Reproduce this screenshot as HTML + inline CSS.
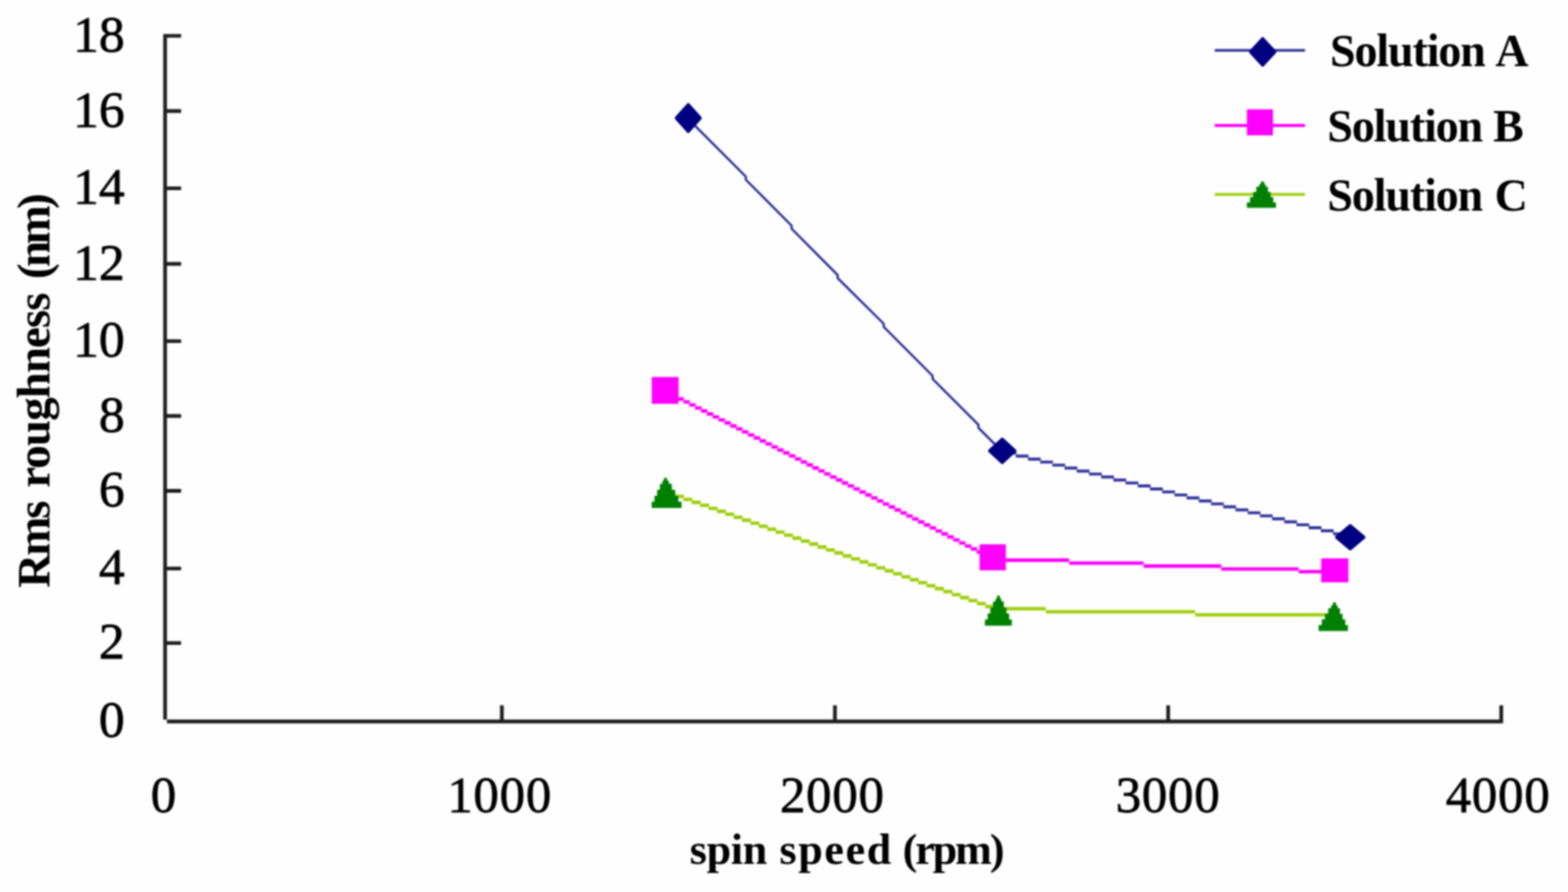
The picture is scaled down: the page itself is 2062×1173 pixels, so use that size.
<!DOCTYPE html>
<html lang="en">
<head>
<meta charset="utf-8">
<title>Rms roughness vs spin speed</title>
<style>
  html, body { margin: 0; padding: 0; background: #fefefe; }
  body { width: 2062px; height: 1173px; overflow: hidden; }
  svg { display: block; }
  text { font-family: "Liberation Serif", "Times New Roman", Times, serif; fill: #000; }
  .yt { font-size: 68px; text-anchor: end; stroke: #000; stroke-width: 0.9px; }
  .xt { font-size: 67px; text-anchor: middle; stroke: #000; stroke-width: 0.9px; letter-spacing: 0.9px; }
  .b { font-weight: bold; }
  .leg { font-size: 60.5px; }
  .xtitle { font-size: 58px; }
  .ytitle { font-size: 62px; }
</style>
</head>
<body>
<svg width="2062" height="1173" viewBox="0 0 2062 1173">
  <defs>
    <filter id="soft" filterUnits="userSpaceOnUse" x="0" y="0" width="2062" height="1173" color-interpolation-filters="sRGB">
      <feGaussianBlur stdDeviation="1.2"/>
    </filter>
  </defs>
  <rect x="0" y="0" width="2062" height="1173" fill="#fefefe"/>
  <g filter="url(#soft)">
    <rect x="0" y="0" width="2062" height="1173" fill="#fefefe"/>

    <!-- axes and ticks -->
    <path fill="#1e1e1e" d="M214.65 44.65H219.55V946.3H214.65ZM219.55 946.3H1976.65V951.2H219.55ZM219.05 44.65H238.2V49.55H219.05ZM219.05 143.55H238.2V148.45H219.05ZM219.05 245.15H238.2V250.05H219.05ZM219.05 344.55H238.2V349.45H219.05ZM219.05 446.15H238.2V451.05H219.05ZM219.05 544.55H238.2V549.45H219.05ZM219.05 643.05H238.2V647.95H219.05ZM219.05 745.15H238.2V750.05H219.05ZM219.05 843.15H238.2V848.05H219.05ZM657.55 927.6H662.45V948.75H657.55ZM1095.55 927.6H1100.45V948.75H1095.55ZM1533.75 927.6H1538.65V948.75H1533.75ZM1971.75 927.6H1976.65V948.75H1971.75Z"/>

    <!-- y tick labels -->
    <g class="yt">
      <text x="164" y="67.7">18</text>
      <text x="164" y="166.6">16</text>
      <text x="164" y="268.2">14</text>
      <text x="164" y="367.6">12</text>
      <text x="164" y="469.2">10</text>
      <text x="164" y="567.6">8</text>
      <text x="164" y="666.1">6</text>
      <text x="164" y="768.2">4</text>
      <text x="164" y="866.2">2</text>
      <text x="164" y="969.2">0</text>
    </g>

    <!-- x tick labels -->
    <g class="xt">
      <text x="215.5" y="1068">0</text>
      <text x="657" y="1068">1000</text>
      <text x="1094.5" y="1068">2000</text>
      <text x="1536" y="1068">3000</text>
      <text x="1970" y="1068">4000</text>
    </g>

    <!-- x axis title -->
    <g class="b xtitle">
      <text x="907" y="1135.5" textLength="102" lengthAdjust="spacing">spin</text>
      <text x="1025" y="1135.5" textLength="147" lengthAdjust="spacing">speed</text>
      <text x="1187" y="1135.5" textLength="134" lengthAdjust="spacing">(rpm)</text>
    </g>

    <!-- y axis title -->
    <g class="b ytitle" transform="translate(64.5 0) rotate(-90)">
      <text x="-773" y="0" textLength="115" lengthAdjust="spacing">Rms</text>
      <text x="-641.5" y="0" textLength="257" lengthAdjust="spacing">roughness</text>
      <text x="-367" y="0" textLength="113" lengthAdjust="spacing">(nm)</text>
    </g>

    <!-- series C line -->
    <path fill="#9fce0c" d="M876.54 646.59H888.37V651.19H876.54ZM887.57 650.5H899.4V655.1H887.57ZM898.6 654.41H910.43V659.01H898.6ZM909.63 658.33H921.46V662.93H909.63ZM920.66 662.24H932.49V666.84H920.66ZM931.69 666.16H943.52V670.76H931.69ZM942.72 670.07H954.55V674.67H942.72ZM953.75 673.98H965.58V678.58H953.75ZM964.78 677.9H976.61V682.5H964.78ZM975.81 681.81H987.64V686.41H975.81ZM986.84 685.73H998.67V690.33H986.84ZM997.87 689.64H1009.7V694.24H997.87ZM1008.9 693.55H1020.73V698.15H1008.9ZM1019.93 697.47H1031.76V702.07H1019.93ZM1030.96 701.38H1042.79V705.98H1030.96ZM1041.99 705.3H1053.82V709.9H1041.99ZM1053.02 709.21H1064.85V713.81H1053.02ZM1064.05 713.12H1075.88V717.72H1064.05ZM1075.08 717.04H1086.91V721.64H1075.08ZM1086.11 720.95H1097.94V725.55H1086.11ZM1097.14 724.87H1108.97V729.47H1097.14ZM1108.17 728.78H1120V733.38H1108.17ZM1119.2 732.69H1131.03V737.29H1119.2ZM1130.23 736.61H1142.06V741.21H1130.23ZM1141.26 740.52H1153.09V745.12H1141.26ZM1152.29 744.44H1164.12V749.04H1152.29ZM1163.32 748.35H1175.15V752.95H1163.32ZM1174.35 752.26H1186.18V756.86H1174.35ZM1185.38 756.18H1197.21V760.78H1185.38ZM1196.41 760.09H1208.24V764.69H1196.41ZM1207.44 764.01H1219.27V768.61H1207.44ZM1218.47 767.92H1230.3V772.52H1218.47ZM1229.5 771.83H1241.33V776.43H1229.5ZM1240.53 775.75H1252.36V780.35H1240.53ZM1251.56 779.66H1263.39V784.26H1251.56ZM1262.59 783.58H1274.42V788.18H1262.59ZM1273.62 787.49H1285.45V792.09H1273.62ZM1284.65 791.4H1296.48V796H1284.65ZM1295.68 795.32H1307.51V799.92H1295.68ZM1313 798.2H1375.3V802.8H1313ZM1375.3 802.2H1571.6V806.8H1375.3ZM1571.6 806.2H1755V810.8H1571.6Z"/>
    <!-- series B line -->
    <path fill="#ff00ff" d="M875.46 514.41H883.97V519.01H875.46ZM883.17 518.35H891.69V522.95H883.17ZM890.89 522.3H899.4V526.9H890.89ZM898.6 526.25H907.11V530.85H898.6ZM906.31 530.19H914.83V534.79H906.31ZM914.03 534.14H922.54V538.74H914.03ZM921.74 538.08H930.26V542.68H921.74ZM929.46 542.03H937.97V546.63H929.46ZM937.17 545.98H945.68V550.58H937.17ZM944.88 549.92H953.4V554.52H944.88ZM952.6 553.87H961.11V558.47H952.6ZM960.31 557.81H968.83V562.41H960.31ZM968.03 561.76H976.54V566.36H968.03ZM975.74 565.71H984.25V570.31H975.74ZM983.45 569.65H991.97V574.25H983.45ZM991.17 573.6H999.68V578.2H991.17ZM998.88 577.54H1007.4V582.14H998.88ZM1006.6 581.49H1015.11V586.09H1006.6ZM1014.31 585.44H1022.82V590.04H1014.31ZM1022.02 589.38H1030.54V593.98H1022.02ZM1029.74 593.33H1038.25V597.93H1029.74ZM1037.45 597.27H1045.97V601.87H1037.45ZM1045.17 601.22H1053.68V605.82H1045.17ZM1052.88 605.17H1061.39V609.77H1052.88ZM1060.59 609.11H1069.11V613.71H1060.59ZM1068.31 613.06H1076.82V617.66H1068.31ZM1076.02 617H1084.54V621.6H1076.02ZM1083.74 620.95H1092.25V625.55H1083.74ZM1091.45 624.9H1099.96V629.5H1091.45ZM1099.16 628.84H1107.68V633.44H1099.16ZM1106.88 632.79H1115.39V637.39H1106.88ZM1114.59 636.73H1123.11V641.33H1114.59ZM1122.31 640.68H1130.82V645.28H1122.31ZM1130.02 644.63H1138.53V649.23H1130.02ZM1137.73 648.57H1146.25V653.17H1137.73ZM1145.45 652.52H1153.96V657.12H1145.45ZM1153.16 656.46H1161.68V661.06H1153.16ZM1160.88 660.41H1169.39V665.01H1160.88ZM1168.59 664.36H1177.1V668.96H1168.59ZM1176.3 668.3H1184.82V672.9H1176.3ZM1184.02 672.25H1192.53V676.85H1184.02ZM1191.73 676.19H1200.25V680.79H1191.73ZM1199.45 680.14H1207.96V684.74H1199.45ZM1207.16 684.09H1215.67V688.69H1207.16ZM1214.87 688.03H1223.39V692.63H1214.87ZM1222.59 691.98H1231.1V696.58H1222.59ZM1230.3 695.92H1238.82V700.52H1230.3ZM1238.02 699.87H1246.53V704.47H1238.02ZM1245.73 703.82H1254.24V708.42H1245.73ZM1253.44 707.76H1261.96V712.36H1253.44ZM1261.16 711.71H1269.67V716.31H1261.16ZM1268.87 715.65H1277.39V720.25H1268.87ZM1276.59 719.6H1285.1V724.2H1276.59ZM1284.3 723.55H1292.81V728.15H1284.3ZM1292.01 727.49H1300.53V732.09H1292.01ZM1306 734.3H1406V738.9H1306ZM1406 738.2H1503.8V742.8H1406ZM1503.8 742.1H1606V746.7H1503.8ZM1606 745.9H1707.8V750.5H1606ZM1707.8 749.4H1755V754H1707.8Z"/>
    <!-- series A line -->
    <path fill="#333399" d="M1319.7 593.92H1336.55V597.82H1319.7ZM1335.75 597.85H1352.6V601.75H1335.75ZM1351.8 601.78H1368.65V605.68H1351.8ZM1367.85 605.7H1384.7V609.6H1367.85ZM1383.9 609.63H1400.75V613.53H1383.9ZM1399.95 613.56H1416.8V617.46H1399.95ZM1416 617.48H1432.85V621.38H1416ZM1432.05 621.41H1448.9V625.31H1432.05ZM1448.1 625.34H1464.95V629.24H1448.1ZM1464.15 629.27H1481V633.17H1464.15ZM1480.2 633.19H1497.05V637.09H1480.2ZM1496.25 637.12H1513.1V641.02H1496.25ZM1512.3 641.05H1529.15V644.95H1512.3ZM1528.35 644.97H1545.2V648.87H1528.35ZM1544.4 648.9H1561.25V652.8H1544.4ZM1560.45 652.83H1577.3V656.73H1560.45ZM1576.5 656.75H1593.35V660.65H1576.5ZM1592.55 660.68H1609.4V664.58H1592.55ZM1608.6 664.61H1625.45V668.51H1608.6ZM1624.65 668.54H1641.5V672.44H1624.65ZM1640.7 672.46H1657.55V676.36H1640.7ZM1656.75 676.39H1673.6V680.29H1656.75ZM1672.8 680.32H1689.65V684.22H1672.8ZM1688.85 684.24H1705.7V688.14H1688.85ZM1704.9 688.17H1721.75V692.07H1704.9ZM1720.95 692.1H1737.8V696H1720.95ZM1737 696.02H1753.85V699.92H1737ZM1753.05 699.95H1769.9V703.85H1753.05ZM1769.1 703.88H1785.95V707.78H1769.1Z"/>
    <path fill="none" stroke="#2e2e96" stroke-width="3.0" stroke-linejoin="round" d="M905 156.4 L980.8 232.2 L980.8 236.2 L1041 296.8 L1041 300.8 L1101.5 361.6 L1101.5 365.6 L1162.1 425.8 L1162.1 429.8 L1226.4 494.3 L1226.4 498.3 L1286.7 558.6 L1286.7 562.6 L1318 593.9"/>

    <!-- markers -->
    <path fill="#008000" d="M873.02 628.4h4.32v4.22h-4.32ZM871.04 632.32h8.65v4.22h-8.65ZM867.8 636.24h15.72v4.22h-15.72ZM867.8 640.16h15.72v4.22h-15.72ZM864.2 644.08h23.58v4.22h-23.58ZM864.2 648h23.58v4.22h-23.58ZM860.6 651.92h31.44v4.22h-31.44ZM860.6 655.84h31.44v4.22h-31.44ZM857 659.76h39.3v4.22h-39.3ZM857 663.68h39.3v4.22h-39.3ZM1311.13 783.2h3.89v4.23h-3.89ZM1309.16 787.13h7.79v4.23h-7.79ZM1305.94 791.06h14.16v4.23h-14.16ZM1305.94 794.99h14.16v4.23h-14.16ZM1302.36 798.92h21.24v4.23h-21.24ZM1302.36 802.85h21.24v4.23h-21.24ZM1298.78 806.78h28.32v4.23h-28.32ZM1298.78 810.71h28.32v4.23h-28.32ZM1295.2 814.64h35.4v4.23h-35.4ZM1295.2 818.57h35.4v4.23h-35.4ZM1752.78 792.3h4.25v4.02h-4.25ZM1750.46 796.02h8.49v4.02h-8.49ZM1746.66 799.74h15.44v4.02h-15.44ZM1746.66 803.46h15.44v4.02h-15.44ZM1742.44 807.18h23.16v4.02h-23.16ZM1742.44 810.9h23.16v4.02h-23.16ZM1738.22 814.62h30.88v4.02h-30.88ZM1738.22 818.34h30.88v4.02h-30.88ZM1734 822.06h38.6v4.02h-38.6ZM1734 825.78h38.6v4.02h-38.6Z"/>
    <path fill="#ff00ff" d="M857.1 495.8H892.4V531.1H857.1ZM1288.2 715.8H1322.8V750H1288.2ZM1737.4 734.3H1773.2V765.8H1737.4Z"/>
    <path fill="#000080" d="M904.3 135.4H905.9L922.6 154V156.4L905.9 175H904.3L887.6 156.4V154ZM1317.2 575.5H1318.8L1336.5 591.7V594.1L1318.8 610.3H1317.2L1299.5 594.1V591.7ZM1774.8 689.3H1776.4L1795.4 705.3V707.7L1776.4 723.7H1774.8L1755.8 707.7V705.3Z"/>

    <!-- legend -->
    <path fill="#333399" d="M1597.5 64.5H1716.2V68.1H1597.5Z"/>
    <path fill="#000080" d="M1659.7 48.7H1661.3L1678.2 67V69.4L1661.3 87.7H1659.7L1642.8 69.4V67Z"/>
    <path fill="#ff00ff" d="M1597.5 163.1H1716.2V166.9H1597.5Z"/>
    <path fill="#ff00ff" d="M1639.7 143.8H1674V178H1639.7Z"/>
    <path fill="#9fce0c" d="M1597.5 253.8H1716.2V257.6H1597.5Z"/>
    <path fill="#008000" d="M1658.12 238.7h4.21v3.73h-4.21ZM1655.85 242.13h8.43v3.73h-8.43ZM1652.12 245.56h15.32v3.73h-15.32ZM1652.12 248.99h15.32v3.73h-15.32ZM1647.98 252.42h22.98v3.73h-22.98ZM1647.98 255.85h22.98v3.73h-22.98ZM1643.84 259.28h30.64v3.73h-30.64ZM1643.84 262.71h30.64v3.73h-30.64ZM1639.7 266.14h38.3v3.73h-38.3ZM1639.7 269.57h38.3v3.73h-38.3Z"/>
    <g class="b leg">
      <text x="1749" y="87.2" textLength="205" lengthAdjust="spacing">Solution</text>
      <text x="1966.5" y="87.2">A</text>
      <text x="1745.5" y="186.2" textLength="205" lengthAdjust="spacing">Solution</text>
      <text x="1963.5" y="186.2">B</text>
      <text x="1745.5" y="276.6" textLength="205" lengthAdjust="spacing">Solution</text>
      <text x="1965.5" y="276.6">C</text>
    </g>
  </g>
</svg>
</body>
</html>
